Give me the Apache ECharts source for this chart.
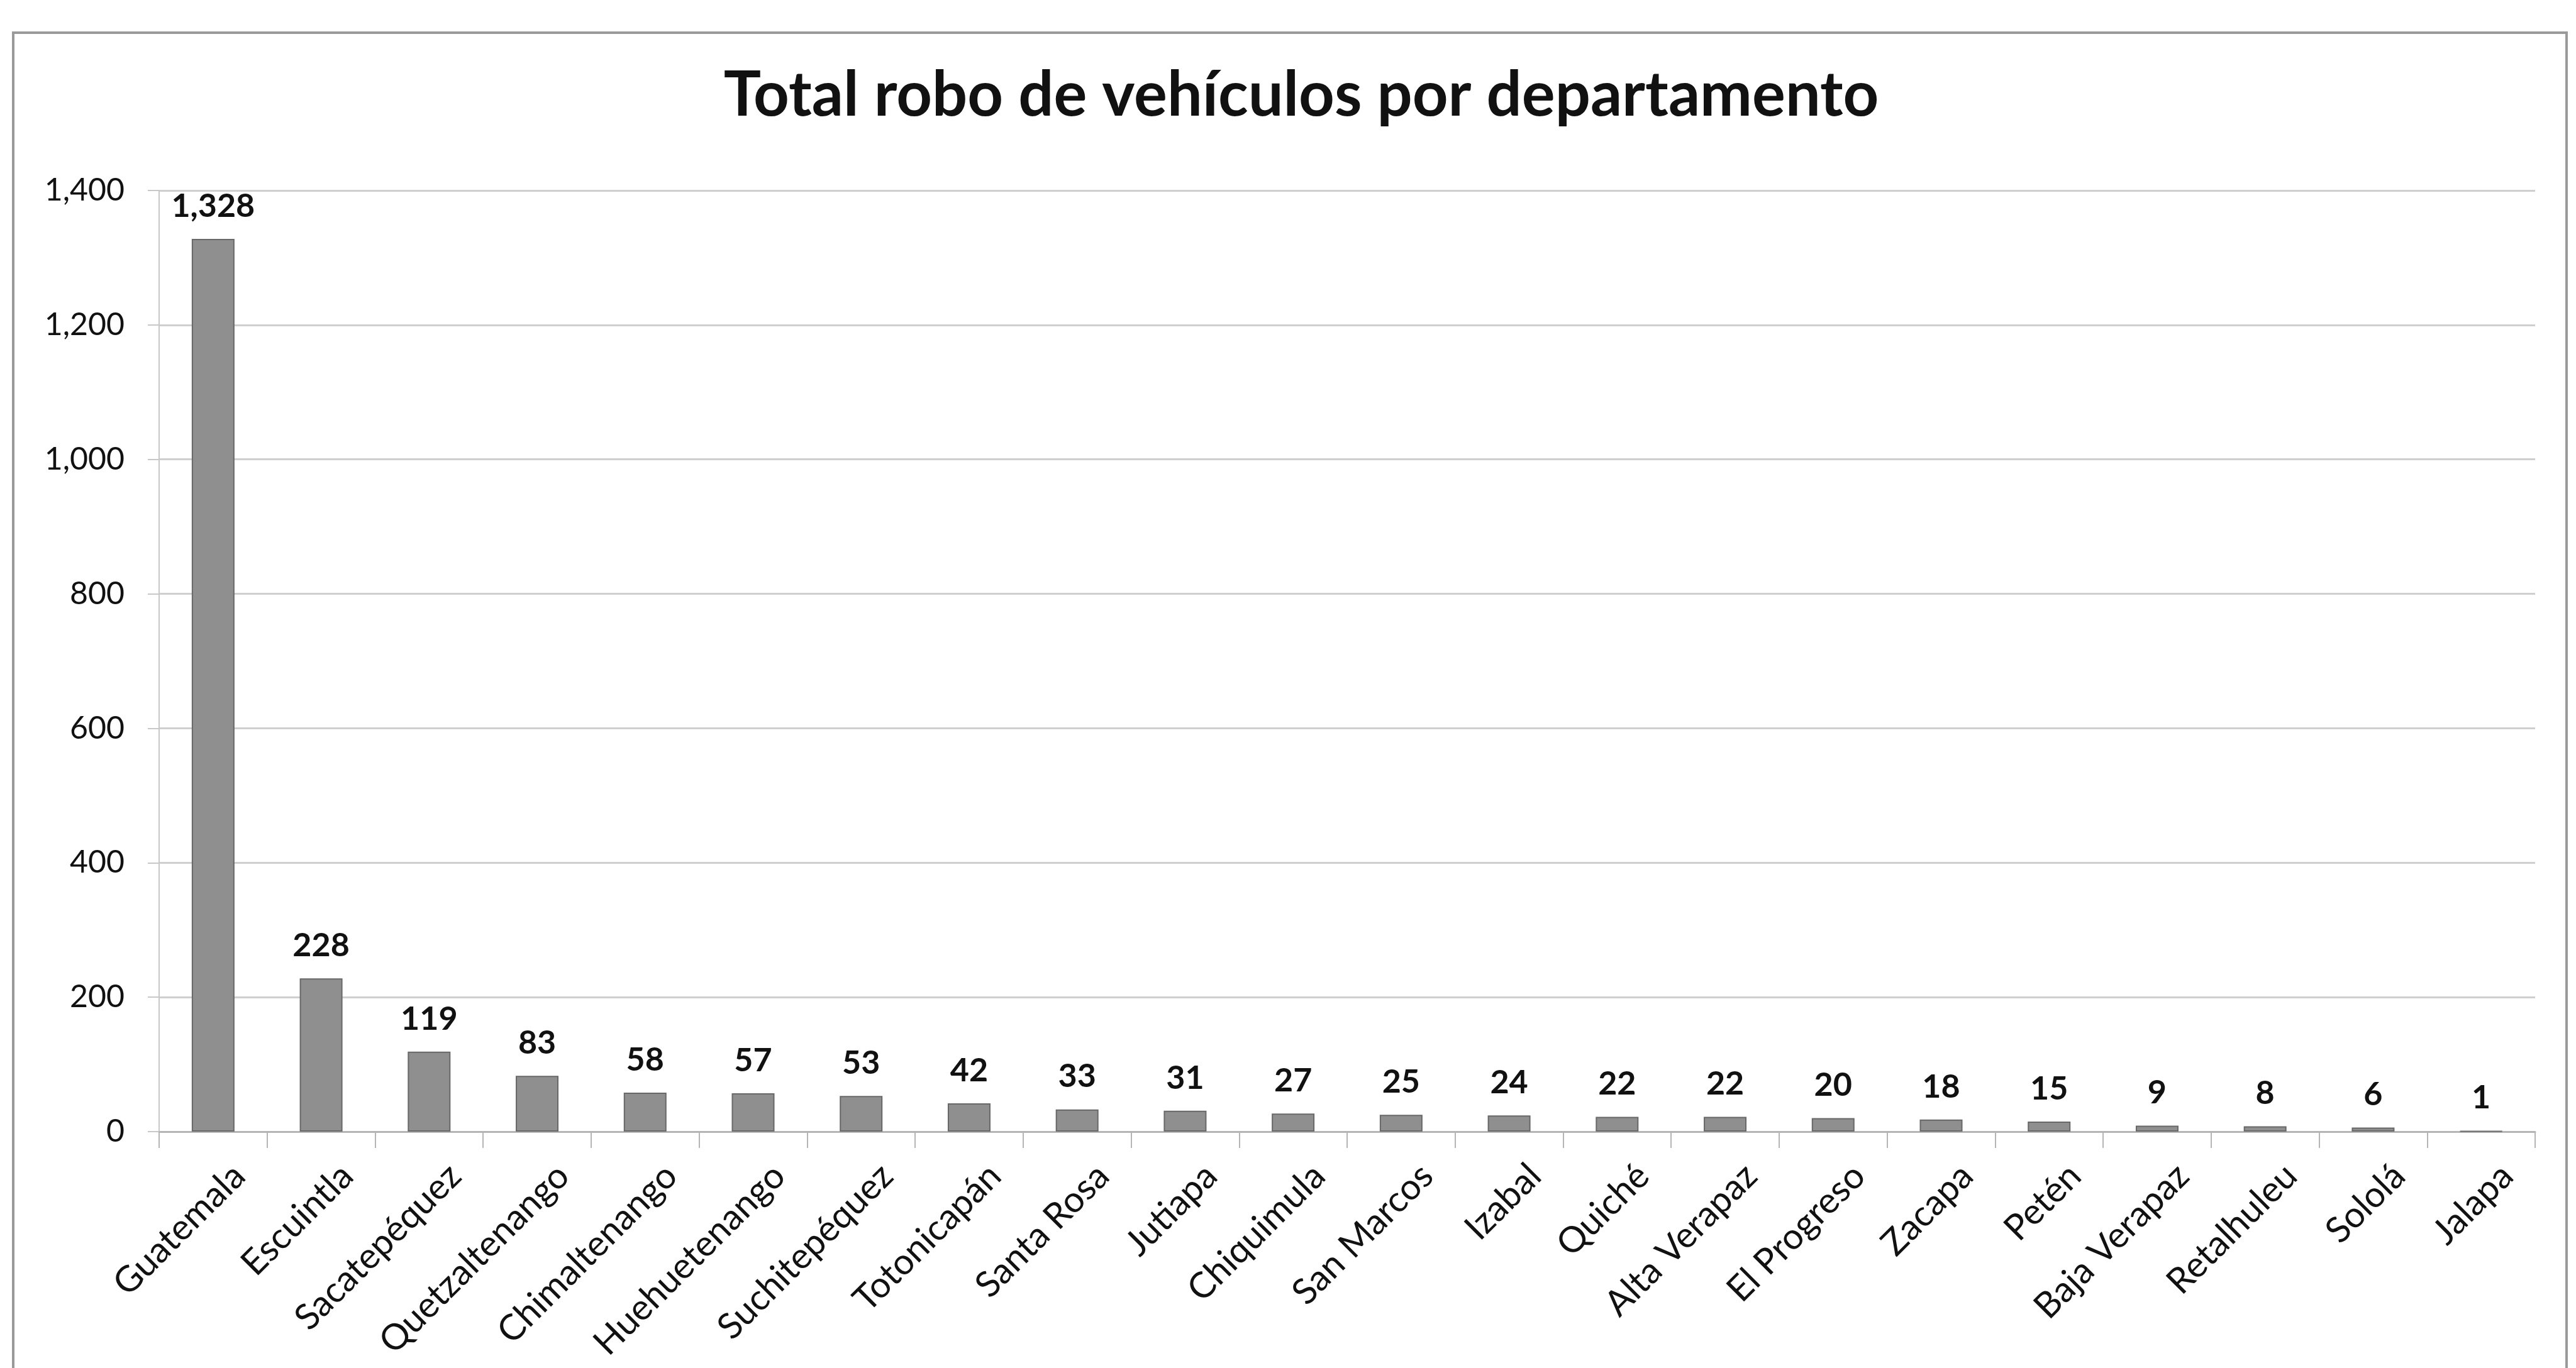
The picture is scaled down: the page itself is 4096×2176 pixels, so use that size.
<!DOCTYPE html>
<html>
<head>
<meta charset="utf-8">
<script src="https://cdn.jsdelivr.net/npm/echarts@6/dist/echarts.min.js"></script>
<style>
html, body { margin: 0; padding: 0; background: #fff; }
#main { width: 4096px; height: 2176px; }
</style>
</head>
<body>
<div id="main"></div>
<script>
// departamentos y total de robos
var departamentos = ['Guatemala', 'Escuintla', 'Sacatepéquez', 'Quetzaltenango', 'Chimaltenango',
    'Huehuetenango', 'Suchitepéquez', 'Totonicapán', 'Santa Rosa', 'Jutiapa', 'Chiquimula',
    'San Marcos', 'Izabal', 'Quiché', 'Alta Verapaz', 'El Progreso', 'Zacapa', 'Petén',
    'Baja Verapaz', 'Retalhuleu', 'Sololá', 'Jalapa'];
var robos = [1328, 228, 119, 83, 58, 57, 53, 42, 33, 31, 27, 25, 24, 22, 22, 20, 18, 15, 9, 8, 6, 1];

var myChart = echarts.init(document.getElementById('main'));

var option = {
    backgroundColor: '#ffffff',
    textStyle: { fontFamily: 'Lato' },
    title: {
        text: 'Total robo de vehículos por departamento',
        left: 2064,
        top: 98,
        textAlign: 'center',
        textStyle: {
            fontFamily: 'Lato',
            fontSize: 99,
            fontWeight: 'bold',
            color: '#111'
        }
    },
    graphic: [{
        type: 'rect',
        shape: { x: 21, y: 52, width: 4060, height: 2150 },
        style: { fill: 'none', stroke: '#9a9a9a', lineWidth: 4 },
        silent: true
    }],
    grid: {
        left: 253,
        right: 65,
        top: 303,
        bottom: 376,
        containLabel: false
    },
    xAxis: {
        type: 'category',
        data: departamentos,
        boundaryGap: true,
        axisLine: { lineStyle: { color: '#b5b5b5', width: 3 } },
        axisTick: { show: true, alignWithLabel: false, length: 26, lineStyle: { color: '#b5b5b5', width: 2 } },
        axisLabel: {
            interval: 0,
            rotate: 45,
            fontSize: 57,
            color: '#111',
            margin: 20,
            verticalAlign: 'top',
            padding: [30, 0, 0, 0]
        }
    },
    yAxis: {
        type: 'value',
        min: 0,
        max: 1400,
        interval: 200,
        axisLine: { show: true, lineStyle: { color: '#c8c8c8', width: 2 } },
        axisTick: { show: true, length: 18, lineStyle: { color: '#c8c8c8', width: 2 } },
        splitLine: { lineStyle: { color: '#cfcfcf', width: 3 } },
        axisLabel: {
            fontSize: 50,
            color: '#111',
            margin: 55,
            formatter: function (v) { return v.toLocaleString('en-US'); }
        }
    },
    series: [{
        name: 'Robos',
        type: 'bar',
        data: robos,
        barWidth: 68,
        itemStyle: {
            color: '#8f8f8f',
            borderColor: '#686868',
            borderWidth: 2
        },
        label: {
            show: true,
            position: 'top',
            distance: 26,
            fontSize: 52,
            fontWeight: 'bold',
            color: '#111',
            formatter: function (p) { return p.value.toLocaleString('en-US'); }
        }
    }]
};

myChart.setOption(option);
</script>
</body>
</html>
